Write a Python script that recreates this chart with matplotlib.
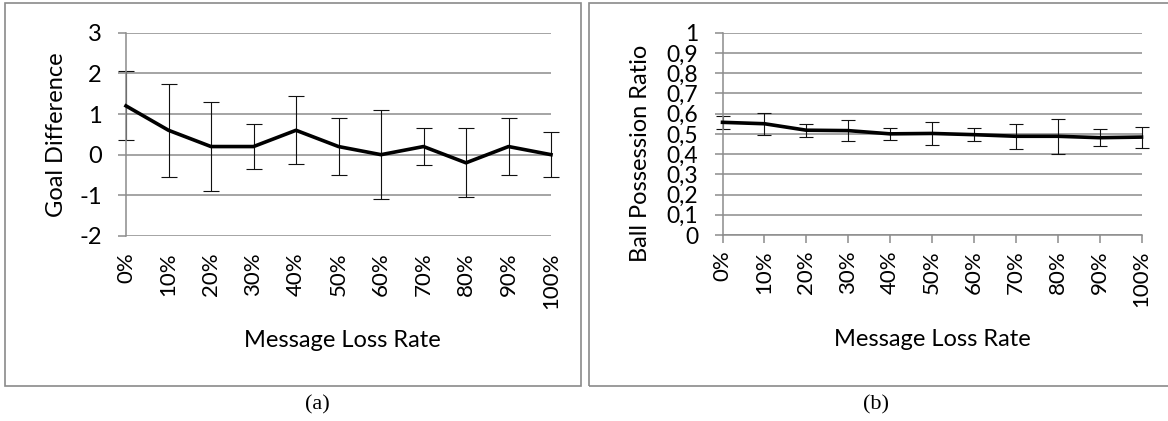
import matplotlib
matplotlib.use('Agg')
import matplotlib.pyplot as plt
from matplotlib.patches import Rectangle

plt.rcParams['font.family'] = ['Lato', 'DejaVu Sans']
plt.rcParams['axes.unicode_minus'] = False

# data
loss_rates = ['0%', '10%', '20%', '30%', '40%', '50%', '60%', '70%', '80%', '90%', '100%']
goal_diff = [1.2, 0.6, 0.2, 0.2, 0.6, 0.2, 0.0, 0.2, -0.2, 0.2, 0.0]
goal_err = [0.85, 1.15, 1.1, 0.55, 0.84, 0.71, 1.1, 0.45, 0.85, 0.71, 0.55]
possession = [0.557, 0.55, 0.518, 0.516, 0.5, 0.502, 0.496, 0.488, 0.488, 0.481, 0.484]
possession_err = [0.032, 0.055, 0.033, 0.05, 0.028, 0.058, 0.031, 0.063, 0.087, 0.042, 0.052]
goal_ticks = [-2, -1, 0, 1, 2, 3]
poss_ticks = [i / 10 for i in range(11)]

W, H = 1168, 421
GRID = '#8c8c8c'
fig = plt.figure(figsize=(W / 100, H / 100), dpi=100)


def px_axes(left, top, right, bottom):
    return fig.add_axes([left / W, 1 - bottom / H, (right - left) / W, (bottom - top) / H])


def style(ax, xtick_len, xpad, ysize):
    ax.grid(axis='y', color=GRID, lw=1.1)
    ax.set_axisbelow(True)
    for s in ['top', 'right']:
        ax.spines[s].set_visible(False)
    for s in ['left', 'bottom']:
        ax.spines[s].set_color(GRID)
        ax.spines[s].set_linewidth(1.1)
    ax.tick_params(axis='y', length=5.5, width=1.1, color=GRID, pad=12, labelsize=ysize)
    ax.tick_params(axis='x', length=xtick_len, width=1.1, color=GRID, pad=xpad, labelsize=16)
    ax.set_xticks(range(len(loss_rates)))
    ax.set_xticklabels(loss_rates, rotation=90)
    ax.set_xlim(0, len(loss_rates) - 1)


x = list(range(len(loss_rates)))

# (a) goal difference
ax1 = px_axes(126, 32.7, 551, 236)
style(ax1, 0, 12, 17)
ax1.spines['bottom'].set_visible(False)
ax1.errorbar(x, goal_diff, yerr=goal_err, fmt='none', ecolor='#111111', elinewidth=0.8,
             capsize=5.5, capthick=0.8, clip_on=False)
ax1.plot(x, goal_diff, color='black', lw=2.6, clip_on=False, zorder=5)
ax1.set_ylim(-2, 3)
ax1.set_yticks(goal_ticks)
ax1.set_yticklabels([str(t) for t in goal_ticks])
ax1.set_ylabel('Goal Difference', fontsize=17)
ax1.yaxis.set_label_coords(-0.138, 0.5)
ax1.set_xlabel('Message Loss Rate', fontsize=17)
ax1.xaxis.set_label_coords(0.508, -0.46)

# (b) ball possession
ax2 = px_axes(722.5, 32.7, 1141.5, 235)
style(ax2, 6, 5, 16.5)
ax2.errorbar(x, possession, yerr=possession_err, fmt='none', ecolor='#111111', elinewidth=0.8,
             capsize=5, capthick=0.8, clip_on=False)
ax2.plot(x, possession, color='black', lw=2.6, clip_on=False, zorder=5)
ax2.set_ylim(0, 1)
ax2.set_yticks(poss_ticks)
ax2.set_yticklabels(['0', '0,1', '0,2', '0,3', '0,4', '0,5', '0,6', '0,7', '0,8', '0,9', '1'])
ax2.set_ylabel('Ball Possession Ratio', fontsize=17)
ax2.yaxis.set_label_coords(-0.171, 0.405)
ax2.set_xlabel('Message Loss Rate', fontsize=17)
ax2.xaxis.set_label_coords(0.502, -0.465)

# panel frames and captions
for left, right in [(5, 580.5), (589, 1175)]:
    fig.patches.append(Rectangle((left / W, 1 - 386 / H), (right - left) / W, 383 / H,
                                 transform=fig.transFigure, fill=False,
                                 edgecolor='#8a8a8a', lw=1.2))
fig.text(317 / W, 1 - 405 / H, '(a)', ha='center', va='center',
         family='Liberation Serif', fontsize=16)
fig.text(876 / W, 1 - 405 / H, '(b)', ha='center', va='center',
         family='Liberation Serif', fontsize=16)

fig.savefig('out.png', dpi=100)
